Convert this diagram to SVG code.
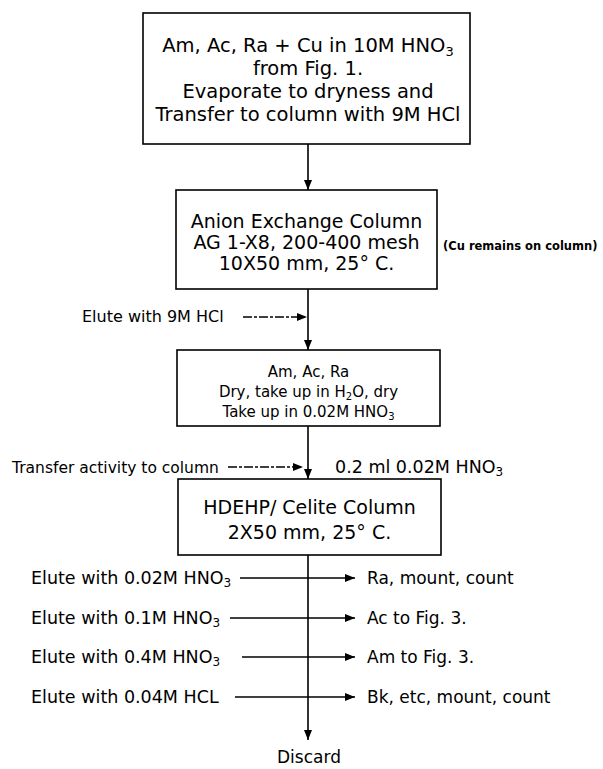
<svg xmlns="http://www.w3.org/2000/svg" width="603" height="769" viewBox="0 0 603 769">
<defs>
<marker id="ah" viewBox="0 0 10 8" refX="10" refY="4" markerWidth="10" markerHeight="8" markerUnits="userSpaceOnUse" orient="auto">
<path d="M0,0 L10,4 L0,8 z" fill="#000"/>
</marker>
</defs>
<style>
.box{fill:#fff;stroke:#000;stroke-width:1.6}
.t{font-family:"DejaVu Sans","Liberation Sans",sans-serif;fill:#000}
.c{text-anchor:middle}
.ln{stroke:#000;stroke-width:1.6;fill:none}
.ar{marker-end:url(#ah)}
.dash{stroke-dasharray:9 2 3 2}
</style>
<rect width="603" height="769" fill="#fff"/>
<g id="connectors">
<line class="ln ar" x1="308" y1="144" x2="308" y2="190"/>
<line class="ln ar" x1="308" y1="289" x2="308" y2="350"/>
<line class="ln ar dash" x1="243" y1="317" x2="307" y2="317"/>
<line class="ln ar" x1="308" y1="426" x2="308" y2="479"/>
<line class="ln ar dash" x1="228" y1="467" x2="303" y2="467"/>
<line class="ln ar" x1="308" y1="555" x2="308" y2="740"/>
<line class="ln ar" x1="240" y1="578" x2="355" y2="578"/>
<line class="ln ar" x1="230" y1="618" x2="355" y2="618"/>
<line class="ln ar" x1="242" y1="657" x2="355" y2="657"/>
<line class="ln ar" x1="235" y1="697" x2="355" y2="697"/>
</g>
<g id="node-start">
<rect class="box" x="143" y="13" width="327" height="131"/>
<text class="t c" font-size="19.5"><tspan x="308" y="52">Am, Ac, Ra + Cu in 10M HNO<tspan font-size="13" dy="4">3</tspan></tspan><tspan x="308" y="75">from Fig. 1.</tspan><tspan x="308" y="98">Evaporate to dryness and</tspan><tspan x="308" y="121">Transfer to column with 9M HCl</tspan></text>
</g>
<g id="node-anion">
<rect class="box" x="176" y="190" width="261" height="99"/>
<text class="t c" font-size="19"><tspan x="306.5" y="228">Anion Exchange Column</tspan><tspan x="306.5" y="249">AG 1-X8, 200-400 mesh</tspan><tspan x="306.5" y="270">10X50 mm,  25° C.</tspan></text>
</g>
<text id="cu-note" class="t" x="443" y="250" font-size="11.5" font-weight="bold">(Cu remains on column)</text>
<text id="elute-hcl" class="t" x="82" y="322" font-size="16">Elute with 9M HCl</text>
<g id="node-residue">
<rect class="box" x="177" y="350" width="263" height="76"/>
<text class="t c" font-size="15"><tspan x="308.5" y="377">Am, Ac, Ra</tspan><tspan x="308.5" y="397">Dry, take up in H<tspan font-size="10" dy="3">2</tspan><tspan dy="-3">O, dry</tspan></tspan><tspan x="308.5" y="417">Take up in 0.02M HNO<tspan font-size="10" dy="3">3</tspan></tspan></text>
</g>
<text id="transfer" class="t" x="12" y="473" font-size="15.5">Transfer activity to column</text>
<text id="load" class="t" x="335" y="473" font-size="17.5">0.2 ml 0.02M HNO<tspan font-size="12" dy="3">3</tspan></text>
<g id="node-hdehp">
<rect class="box" x="178" y="479" width="263" height="76"/>
<text class="t c" font-size="19"><tspan x="309.5" y="514">HDEHP/ Celite Column</tspan><tspan x="309.5" y="539">2X50 mm,  25° C.</tspan></text>
</g>
<g id="eluents" class="t" font-size="17.5">
<text x="31" y="584">Elute with 0.02M HNO<tspan font-size="12" dy="3">3</tspan></text>
<text x="31" y="624">Elute with 0.1M HNO<tspan font-size="12" dy="3">3</tspan></text>
<text x="31" y="663">Elute with 0.4M HNO<tspan font-size="12" dy="3">3</tspan></text>
<text x="31" y="703">Elute with 0.04M HCL</text>
</g>
<g id="fractions" class="t" font-size="17">
<text x="367" y="584">Ra, mount, count</text>
<text x="367" y="624">Ac to Fig. 3.</text>
<text x="367" y="663">Am to Fig. 3.</text>
<text x="367" y="703">Bk, etc, mount, count</text>
</g>
<text id="discard" class="t c" x="309" y="763" font-size="17">Discard</text>
</svg>
